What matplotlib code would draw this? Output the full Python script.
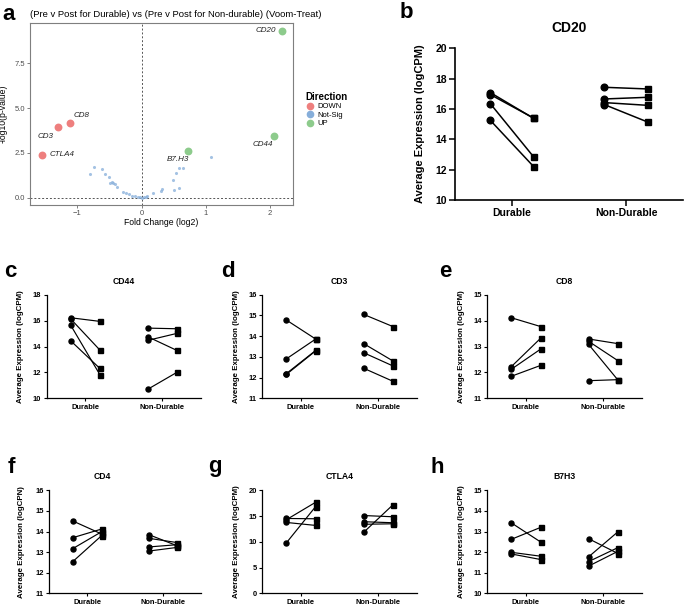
import matplotlib.pyplot as plt
from matplotlib.lines import Line2D

plt.rcParams['font.family'] = ['Liberation Sans', 'DejaVu Sans']

# ---- volcano data (panel a) ----
sig_genes = ['CD20', 'CD44', 'B7.H3', 'CD8', 'CD3', 'CTLA4']
sig_fc = [2.19, 2.06, 0.73, -1.12, -1.31, -1.55]
sig_p = [9.32, 3.46, 2.62, 4.19, 3.93, 2.40]
sig_dir = ['UP', 'UP', 'UP', 'DOWN', 'DOWN', 'DOWN']

ns_fc = [-0.81, -0.74, -0.61, -0.57, -0.51, -0.49, -0.46, -0.44, -0.42, -0.39,
         -0.29, -0.25, -0.20, -0.15, -0.10, -0.06, -0.03, 0.0, 0.03, 0.07,
         0.08, 0.18, 0.30, 0.32, 0.49, 0.53, 0.58, 0.64, 0.50, 0.58, 1.08]
ns_p = [1.31, 1.73, 1.58, 1.32, 1.14, 0.80, 0.88, 0.84, 0.75, 0.58,
        0.32, 0.26, 0.19, 0.12, 0.07, 0.03, 0.01, 0.0, 0.01, 0.05,
        0.11, 0.25, 0.38, 0.47, 0.99, 1.36, 1.64, 1.64, 0.43, 0.56, 2.29]

dir_colors = {'DOWN': '#EE7F7E', 'Not-Sig': '#86AEDA', 'UP': '#8DCB8C'}

# ---- paired expression data: [Durable, Non-Durable] ----
groups = ['Durable', 'Non-Durable']

cd20_pre = [[17.08, 16.95, 16.35, 15.25], [17.43, 16.66, 16.42, 16.29]]
cd20_post = [[15.38, 15.40, 12.84, 12.20], [17.32, 16.77, 16.24, 15.14]]

cd44_pre = [[16.22, 16.14, 15.66, 14.45], [15.42, 14.76, 14.47, 10.69]]
cd44_post = [[15.94, 13.73, 11.83, 12.31], [15.37, 13.70, 15.01, 12.00]]

cd3_pre = [[14.78, 12.90, 12.19, 12.15], [15.05, 13.64, 13.20, 12.45]]
cd3_post = [[13.86, 13.86, 13.31, 13.29], [14.46, 12.80, 12.56, 11.82]]

cd8_pre = [[14.11, 12.22, 12.12, 11.85], [13.29, 13.20, 13.08, 11.68]]
cd8_post = [[13.77, 13.32, 12.90, 12.27], [13.11, 12.45, 11.70, 11.72]]

cd4_pre = [[14.51, 13.70, 13.17, 12.54], [13.85, 13.67, 13.25, 13.05]]
cd4_post = [[13.88, 14.12, 13.99, 13.80], [13.30, 13.46, 13.36, 13.23]]

ctla4_pre = [[14.53, 14.28, 13.76, 9.77], [15.10, 13.90, 13.40, 11.83]]
ctla4_post = [[14.47, 17.68, 13.18, 16.85], [14.86, 13.70, 13.50, 17.20]]

b7h3_pre = [[13.42, 12.62, 11.99, 11.91], [12.65, 11.77, 11.54, 11.32]]
b7h3_post = [[12.49, 13.20, 11.80, 11.64], [11.93, 12.99, 12.22, 12.04]]

cd20_ticks = [10, 12, 14, 16, 18, 20]
cd44_ticks = [10, 12, 14, 16, 18]
cd3_ticks = [11, 12, 13, 14, 15, 16]
cd8_ticks = [11, 12, 13, 14, 15]
cd4_ticks = [11, 12, 13, 14, 15, 16]
ctla4_ticks = [0, 5, 10, 15, 20]
b7h3_ticks = [10, 11, 12, 13, 14, 15]

W, H = 685, 606
fig = plt.figure(figsize=(W / 100, H / 100), dpi=100)


def px_axes(left, top, right, bottom):
    return fig.add_axes([left / W, 1 - bottom / H, (right - left) / W, (bottom - top) / H])


# ---------------- panel a: volcano ----------------
ax = px_axes(30, 22.7, 293, 205)
ax.scatter(ns_fc, ns_p, s=5, color=dir_colors['Not-Sig'], alpha=0.75, lw=0, zorder=3)
for g, x, y, d in zip(sig_genes, sig_fc, sig_p, sig_dir):
    ax.scatter([x], [y], s=32, color=dir_colors[d], lw=0, zorder=4)
label_off = {'CD20': (-6, 0, 'right'), 'CD44': (-11, -9, 'center'),
             'B7.H3': (-11, -9, 'center'), 'CD8': (12, 7, 'center'),
             'CD3': (-12, -9, 'center'), 'CTLA4': (7, 0, 'left')}
for g, x, y in zip(sig_genes, sig_fc, sig_p):
    dx, dy, ha = label_off[g]
    ax.annotate(g, (x, y), xytext=(dx, dy), textcoords='offset pixels',
                ha=ha, va='center', fontsize=5.8, style='italic', color='#222222')
ax.axvline(0, color='#555555', lw=0.7, ls=(0, (2, 2)), zorder=1)
ax.axhline(0, color='#555555', lw=0.7, ls=(0, (2, 2)), zorder=1)
ax.set_xlim(-1.74, 2.36)
ax.set_ylim(-0.41, 9.77)
ax.set_xticks([-1, 0, 1, 2])
ax.set_yticks([0, 2.5, 5, 7.5])
ax.set_yticklabels(['0.0', '2.5', '5.0', '7.5'])
ax.tick_params(labelsize=5.5, colors='#4d4d4d', length=2, width=0.5, pad=1.5)
for sp in ax.spines.values():
    sp.set_color('#7f7f7f')
    sp.set_linewidth(0.8)
ax.set_xlabel('Fold Change (log2)', fontsize=6.2, labelpad=1)
ax.set_ylabel('-log10(p-value)', fontsize=6.2)
ax.yaxis.set_label_coords(-0.085, 0.5)
ax.set_title('(Pre v Post for Durable) vs (Pre v Post for Non-durable) (Voom-Treat)',
             fontsize=6.8, loc='left', pad=4, x=0.0)
handles = [Line2D([], [], marker='o', ls='', color=dir_colors[k], markersize=4.5)
           for k in ['DOWN', 'Not-Sig', 'UP']]
leg = ax.legend(handles, ['DOWN', 'Not-Sig', 'UP'], title='Direction',
                loc='upper left', bbox_to_anchor=(302 / W, 1 - 88 / H),
                bbox_transform=fig.transFigure, frameon=False, fontsize=5.5,
                title_fontsize=7, handletextpad=0.3, labelspacing=0.15,
                borderpad=0, handlelength=1.2)
leg.get_title().set_fontweight('bold')
leg._legend_box.align = 'left'


# ---------------- paired panels ----------------
def paired(box, title, pre, post, ticks, ylabel, big=False):
    a = px_axes(*box)
    off = 0.19
    lw = 1.1 if big else 0.85
    ms_o = 4.8 if big else 3.6
    ms_s = 4.6 if big else 3.6
    for i in range(len(groups)):
        for y0, y1 in zip(pre[i], post[i]):
            a.plot([i - off, i + off], [y0, y1], color='black', lw=lw, zorder=2)
        a.plot([i - off] * len(pre[i]), pre[i], 'o', color='black', ms=ms_o, zorder=3)
        a.plot([i + off] * len(post[i]), post[i], 's', color='black', ms=ms_s, zorder=3)
    a.set_xlim(-0.5, 1.5)
    a.set_ylim(ticks[0], ticks[-1])
    a.set_xticks(range(len(groups)))
    a.set_xticklabels(groups)
    a.set_yticks(ticks)
    a.spines['top'].set_visible(False)
    a.spines['right'].set_visible(False)
    fs_tick = 7.5 if big else 5.4
    a.tick_params(labelsize=fs_tick, length=4 if big else 2.5, width=1.1 if big else 0.8,
                  pad=2 if big else 1.5)
    for lab in a.get_xticklabels() + a.get_yticklabels():
        lab.set_fontweight('bold')
    for sp in ('left', 'bottom'):
        a.spines[sp].set_linewidth(1.2 if big else 0.9)
    a.set_ylabel(ylabel, fontsize=8 if big else 5.7, fontweight='bold')
    a.set_title(title, fontsize=10 if big else 6.2, fontweight='bold',
                pad=12 if big else 8)
    return a


ylab = 'Average Expression (logCPM)'
ab = paired((455, 48.3, 683, 200), 'CD20', cd20_pre, cd20_post, cd20_ticks, ylab, big=True)
ab.yaxis.set_label_coords(-0.13, 0.5)

ac = paired((46.7, 294.7, 200.7, 398.3), 'CD44', cd44_pre, cd44_post, cd44_ticks, ylab)
ac.yaxis.set_label_coords(-0.145, 0.5)
ad = paired((262.3, 294.7, 417, 398.3), 'CD3', cd3_pre, cd3_post, cd3_ticks, ylab)
ad.yaxis.set_label_coords(-0.145, 0.5)
ae = paired((487.3, 294.7, 642, 398.3), 'CD8', cd8_pre, cd8_post, cd8_ticks, ylab)
ae.yaxis.set_label_coords(-0.145, 0.5)

af = paired((49.3, 490.3, 201, 593.3), 'CD4', cd4_pre, cd4_post, cd4_ticks,
            'Average Expression (logCPN)')
af.yaxis.set_label_coords(-0.16, 0.5)
af.title.set_position((0.35, 1.0))
ag = paired((262.3, 490.3, 417, 593.3), 'CTLA4', ctla4_pre, ctla4_post, ctla4_ticks, ylab)
ag.yaxis.set_label_coords(-0.145, 0.5)
ah = paired((487.3, 490.3, 642, 593.3), 'B7H3', b7h3_pre, b7h3_post, b7h3_ticks, ylab)
ah.yaxis.set_label_coords(-0.145, 0.5)

# panel letters
for letter, x, y in [('a', 2, 20), ('b', 400, 18), ('c', 4, 277), ('d', 221, 277),
                     ('e', 439, 277), ('f', 8, 473), ('g', 208, 472), ('h', 430, 473)]:
    fig.text(x / W, 1 - y / H, letter, fontsize=16, fontweight='bold', va='baseline')

fig.savefig('out.png', dpi=100)
